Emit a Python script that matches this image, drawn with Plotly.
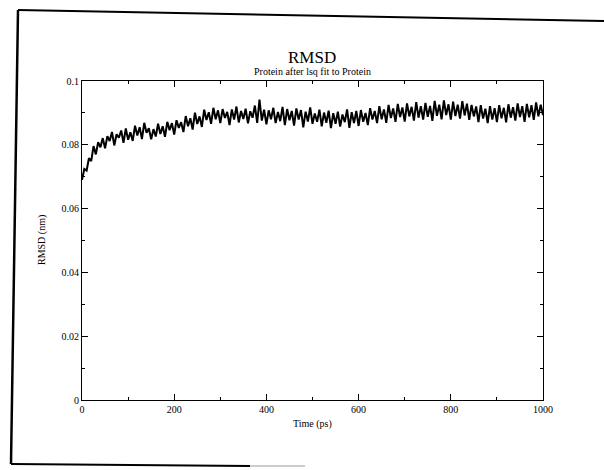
import numpy as np
import plotly.graph_objects as go

# RMSD of the protein after least-squares fit, sampled every 5 ps
time_ps = np.arange(0, 1001, 5)
rmsd_nm = [
    0.0690, 0.0724, 0.0719, 0.0758, 0.0749, 0.0796, 0.0770, 0.0808, 0.0792, 0.0821,
    0.0789, 0.0827, 0.0812, 0.0840, 0.0798, 0.0833, 0.0822, 0.0845, 0.0806, 0.0851,
    0.0816, 0.0839, 0.0812, 0.0860, 0.0829, 0.0855, 0.0818, 0.0869, 0.0838, 0.0852,
    0.0817, 0.0849, 0.0826, 0.0866, 0.0834, 0.0858, 0.0825, 0.0872, 0.0846, 0.0868,
    0.0832, 0.0877, 0.0853, 0.0871, 0.0840, 0.0890, 0.0858, 0.0883, 0.0848, 0.0901,
    0.0865, 0.0889, 0.0856, 0.0910, 0.0878, 0.0902, 0.0866, 0.0916, 0.0880, 0.0908,
    0.0868, 0.0912, 0.0884, 0.0903, 0.0862, 0.0911, 0.0879, 0.0920, 0.0870, 0.0906,
    0.0881, 0.0913, 0.0867, 0.0905, 0.0885, 0.0923, 0.0869, 0.0942, 0.0876, 0.0910,
    0.0864, 0.0908, 0.0880, 0.0916, 0.0868, 0.0903, 0.0874, 0.0919, 0.0862, 0.0912,
    0.0877, 0.0906, 0.0860, 0.0914, 0.0879, 0.0909, 0.0855, 0.0904, 0.0873, 0.0917,
    0.0866, 0.0898, 0.0872, 0.0910, 0.0858, 0.0901, 0.0869, 0.0907, 0.0852, 0.0899,
    0.0866, 0.0904, 0.0857, 0.0895, 0.0871, 0.0911, 0.0853, 0.0902, 0.0868, 0.0906,
    0.0859, 0.0909, 0.0872, 0.0900, 0.0862, 0.0915, 0.0879, 0.0906, 0.0868, 0.0921,
    0.0880, 0.0911, 0.0869, 0.0925, 0.0884, 0.0914, 0.0872, 0.0928, 0.0887, 0.0917,
    0.0873, 0.0930, 0.0889, 0.0919, 0.0876, 0.0934, 0.0885, 0.0921, 0.0879, 0.0931,
    0.0888, 0.0922, 0.0875, 0.0938, 0.0891, 0.0926, 0.0880, 0.0939, 0.0893, 0.0927,
    0.0879, 0.0935, 0.0890, 0.0926, 0.0882, 0.0937, 0.0892, 0.0929, 0.0878, 0.0925,
    0.0889, 0.0920, 0.0871, 0.0924, 0.0882, 0.0913, 0.0868, 0.0921, 0.0879, 0.0915,
    0.0871, 0.0924, 0.0883, 0.0916, 0.0870, 0.0927, 0.0885, 0.0918, 0.0876, 0.0930,
    0.0887, 0.0921, 0.0872, 0.0928, 0.0886, 0.0924, 0.0878, 0.0933, 0.0889, 0.0926,
    0.0893,
]

x_tick_vals = [0, 200, 400, 600, 800, 1000]
x_tick_text = ["0", "200", "400", "600", "800", "1000"]
y_tick_vals = [0, 0.02, 0.04, 0.06, 0.08, 0.1]
y_tick_text = ["0", "0.02", "0.04", "0.06", "0.08", "0.1"]

title_text = "RMSD"
subtitle_text = "Protein after lsq fit to Protein"
x_title = "Time (ps)"
y_title = "RMSD (nm)"

W, H = 604, 470
ML, MR, MT, MB = 82, 61, 81, 70
SERIF = "Liberation Serif, Times New Roman, serif"


def px(xp, yp):
    """Pixel position on the page -> paper coordinates."""
    return ((xp - ML) / (W - ML - MR), (H - MB - yp) / (H - MT - MB))


fig = go.Figure()
fig.add_trace(go.Scatter(
    x=time_ps, y=rmsd_nm, mode="lines",
    line=dict(color="black", width=2),
    hoverinfo="x+y", showlegend=False,
))

axis_common = dict(
    showline=True, linecolor="black", linewidth=1, mirror="ticks",
    ticks="inside", ticklen=6, tickwidth=1, tickcolor="black",
    showgrid=False, zeroline=False,
    tickfont=dict(family=SERIF, size=10, color="black"),
)

fig.update_xaxes(
    range=[0, 1000], tickvals=x_tick_vals, ticktext=x_tick_text,
    minor=dict(dtick=100, tick0=0, ticks="inside", ticklen=3, tickcolor="black", showgrid=False),
    **axis_common,
)
fig.update_yaxes(
    range=[0, 0.1], tickvals=y_tick_vals, ticktext=y_tick_text,
    minor=dict(dtick=0.01, tick0=0, ticks="inside", ticklen=3, tickcolor="black", showgrid=False),
    **axis_common,
)

ann = []
for txt, (xp, yp), size, ang in [
    (title_text, (312, 58), 17, 0),
    (subtitle_text, (312, 72), 10, 0),
    (x_title, (312, 424), 10, 0),
    (y_title, (42, 240), 10, -90),
]:
    xr, yr = px(xp, yp)
    ann.append(dict(
        text=txt, x=xr, y=yr, xref="paper", yref="paper",
        xanchor="center", yanchor="middle", showarrow=False,
        textangle=ang, font=dict(family=SERIF, size=size, color="black"),
    ))

# border of the printed page around the graph
shapes = []
for (x0, y0, x1, y1, w, c) in [
    (18, 10, 604, 21, 2, "black"),
    (18, 10, 11, 464, 2.5, "black"),
    (11, 464, 250, 466, 2, "black"),
    (250, 466, 305, 466, 1.2, "#9a9a9a"),
]:
    a0, b0 = px(x0, y0)
    a1, b1 = px(x1, y1)
    shapes.append(dict(type="line", xref="paper", yref="paper",
                       x0=a0, y0=b0, x1=a1, y1=b1,
                       line=dict(color=c, width=w)))

fig.update_layout(
    width=W, height=H,
    margin=dict(l=ML, r=MR, t=MT, b=MB),
    paper_bgcolor="white", plot_bgcolor="white",
    annotations=ann, shapes=shapes,
    font=dict(family=SERIF, color="black"),
)

fig.write_html("out.html")
